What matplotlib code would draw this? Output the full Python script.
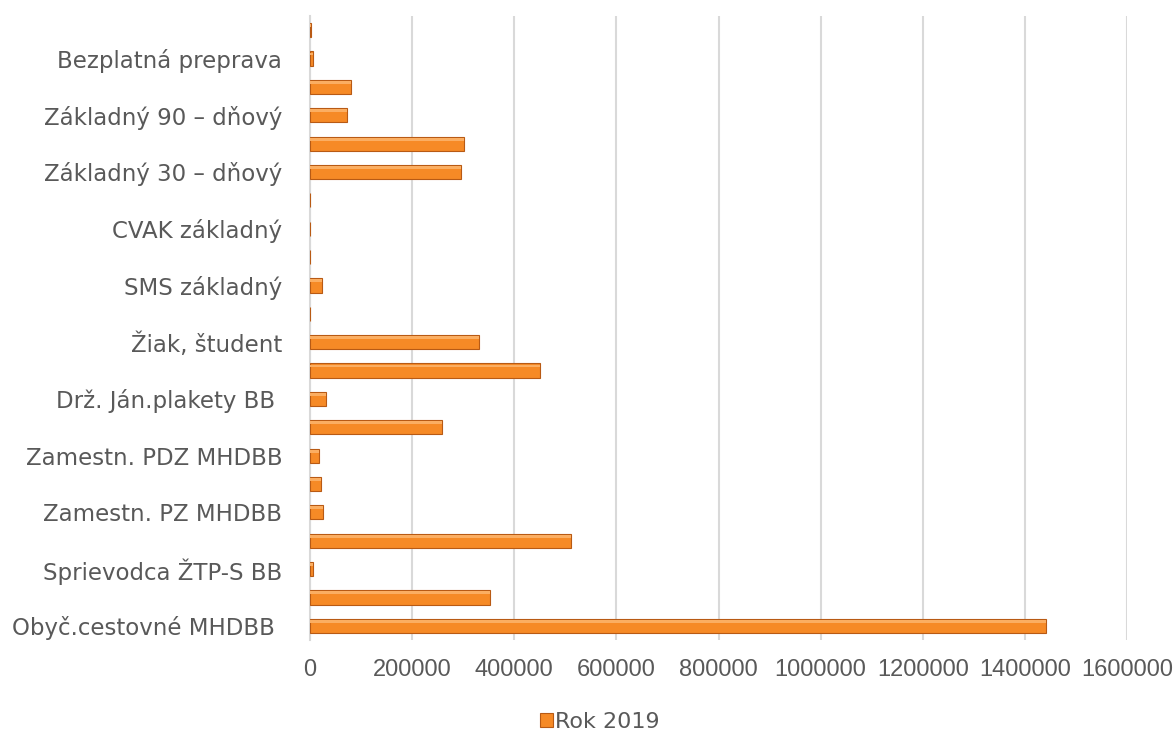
import matplotlib.pyplot as plt
import numpy as np

# categories bottom -> top; Excel showed only every other label
labels = ["Obyč.cestovné MHDBB ", "", "Sprievodca ŽTP-S BB", "",
          "Zamestn. PZ MHDBB", "", "Zamestn. PDZ MHDBB", "",
          "Drž. Ján.plakety BB ", "", "Žiak, študent", "",
          "SMS základný", "", "CVAK základný", "",
          "Základný 30 – dňový", "", "Základný 90 – dňový", "",
          "Bezplatná preprava", ""]
rok_2019 = [1441000, 352000, 6500, 511000, 25000, 21000, 17000, 258000,
            32000, 450000, 331000, 0, 23000, 0, 0, 0,
            296000, 301000, 73000, 81000, 5000, 1000]
xticks = [0, 200000, 400000, 600000, 800000, 1000000, 1200000, 1400000, 1600000]

txt = '#595959'
plt.rcParams['font.family'] = ['DejaVu Sans']

fig = plt.figure(figsize=(11.76, 7.34), dpi=100)
ax = fig.add_axes([310/1176, 94/734, 817/1176, 624/734])

y = np.arange(len(labels))
ax.barh(y, rok_2019, height=0.5, color='#F68A26', edgecolor='#B85A14',
        linewidth=0.8, label='Rok 2019', zorder=3)
# light top highlight for the bevel look
ax.barh(y + 0.16, rok_2019, height=0.1, color='#FBAE62', linewidth=0, zorder=4)

ax.set_xlim(0, 1600000)
ax.set_ylim(-0.5, len(labels) - 0.5)
ax.set_xticks(xticks)
ax.set_xticklabels([str(v) for v in xticks], family='Liberation Sans', fontsize=17)
ax.set_yticks(y)
ax.set_yticklabels(labels, fontsize=16.5)
ax.tick_params(axis='both', length=0, colors=txt)
ax.tick_params(axis='x', pad=14)
ax.tick_params(axis='y', pad=20)
ax.grid(axis='x', color='#D9D9D9', linewidth=1.5, zorder=0)
for s in ['top', 'right', 'bottom']:
    ax.spines[s].set_visible(False)
ax.spines['left'].set_color('#D9D9D9')
ax.spines['left'].set_linewidth(1.5)

leg = fig.legend(handles=[ax.patches[0]], labels=['Rok 2019'], loc='center',
                 bbox_to_anchor=(600/1176, 1 - 722/734), frameon=False,
                 fontsize=16, handlelength=0.6, handleheight=0.6,
                 handletextpad=0.1, labelcolor=txt)

fig.savefig('out.png', dpi=100)
